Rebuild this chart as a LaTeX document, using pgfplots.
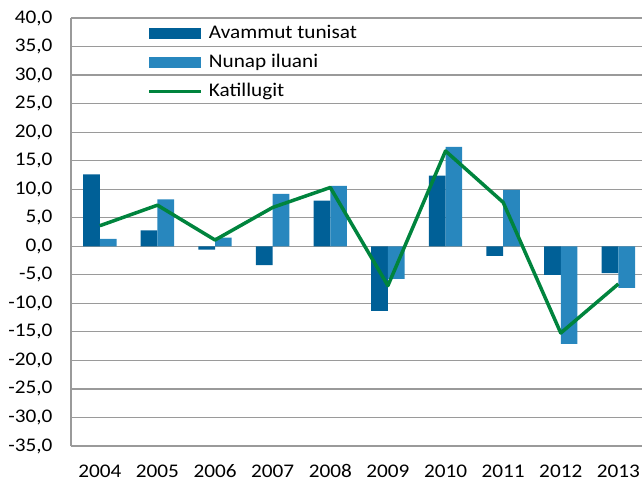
\documentclass[border=0pt]{standalone}
\usepackage{fontspec}
\setmainfont{Carlito}[FakeStretch=1.1]
\usepackage{pgfplots}
\pgfplotsset{compat=1.18}

\definecolor{darkbar}{HTML}{006097}
\definecolor{lightbar}{HTML}{2887BE}
\definecolor{katgreen}{HTML}{00843D}
\definecolor{gridgray}{HTML}{9A9A9A}

\pgfplotstableread{
x avammut nunap katillugit
0  12.6   1.3   3.6
1   2.8   8.2   7.2
2  -0.6   1.5   1.1
3  -3.3   9.2   6.8
4   8.0  10.6  10.3
5 -11.3  -5.7  -6.9
6  12.4  17.4  16.7
7  -1.7   9.9   7.7
8  -5.0 -17.1 -15.2
9  -4.7  -7.3  -6.6
}\data

\begin{document}
\fontsize{19.3}{22}\selectfont
\begin{tikzpicture}
\begin{axis}[
    scale only axis,
    width=571pt, height=428pt,
    xmin=-0.5, xmax=9.41,
    ymin=-35, ymax=40,
    ytick={-35,-30,...,40},
    xtick={0,...,9},
    xticklabels={2004,2005,2006,2007,2008,2009,2010,2011,2012,2013},
    major tick length=0pt,
    axis x line*=bottom, axis y line*=left,
    axis line style={gridgray, line width=1.3pt, -},
    ymajorgrids, grid style={gridgray, line width=1.2pt},
    /pgf/number format/.cd, fixed, fixed zerofill, precision=1, use comma, assume math mode=true,
    /pgfplots/.cd,
    yticklabel style={anchor=east, xshift=-12pt},
    xticklabel style={yshift=-12pt},
    ybar=0pt, bar width=16.7pt,
    legend style={at={(0.1336,0.985)}, anchor=north west, draw=none, fill=none,
        inner sep=0pt, row sep=11pt,
        nodes={inner sep=0pt, text height=14pt, text depth=4pt},
        /tikz/every odd column/.append style={column sep=6pt}},
    legend cell align=left,
]
\addplot[fill=darkbar, draw=none,
    legend image code/.code={\fill[darkbar] (0pt,-5.5pt) rectangle (52pt,5.5pt);}]
    table[x=x, y=avammut] {\data};
\addlegendentry{Avammut tunisat}
\addplot[fill=lightbar, draw=none,
    legend image code/.code={\fill[lightbar] (0pt,-5.5pt) rectangle (52pt,5.5pt);}]
    table[x=x, y=nunap] {\data};
\addlegendentry{Nunap iluani}
\addplot[sharp plot, katgreen, line width=3.5pt, line join=round, no marks,
    legend image code/.code={\draw[katgreen, line width=3.5pt] (0pt,0pt) -- (52pt,0pt);}]
    table[x=x, y=katillugit] {\data};
\addlegendentry{Katillugit}
\end{axis}
\pgfresetboundingbox
\path[use as bounding box] (-71pt,-37pt) rectangle (571pt,446pt);
\end{tikzpicture}
\end{document}
